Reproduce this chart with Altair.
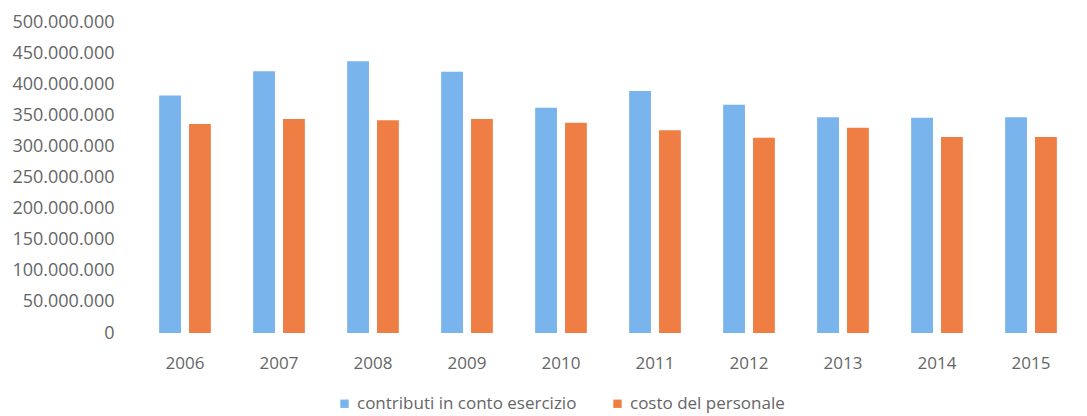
import altair as alt
import pandas as pd

years = ["2006", "2007", "2008", "2009", "2010", "2011", "2012", "2013", "2014", "2015"]
contributi = [382e6, 421e6, 437e6, 420e6, 362e6, 389e6, 367e6, 347e6, 346e6, 347e6]
personale = [336e6, 344e6, 342e6, 344e6, 338e6, 326e6, 314e6, 330e6, 315e6, 315e6]
series = ["contributi in conto esercizio", "costo del personale"]
colors = ["#79B4EC", "#EF7E45"]

rows = []
for i, y in enumerate(years):
    rows.append({"anno": y, "serie": series[0], "valore": contributi[i]})
    rows.append({"anno": y, "serie": series[1], "valore": personale[i]})
df = pd.DataFrame(rows)

font = "Open Sans"
txt = "#666666"
chart = alt.Chart(df).mark_bar().encode(
    x=alt.X("anno:N", title=None,
            scale=alt.Scale(paddingInner=0.45, paddingOuter=0.225),
            axis=alt.Axis(labelAngle=0, domain=False, ticks=False, labelPadding=22,
                          labelFont=font, labelFontSize=17, labelColor=txt)),
    xOffset=alt.XOffset("serie:N", sort=series, scale=alt.Scale(paddingInner=0.27)),
    y=alt.Y("valore:Q", title=None,
            scale=alt.Scale(domain=[0, 500e6]),
            axis=alt.Axis(values=[i * 50e6 for i in range(11)], grid=False, domain=False, ticks=False,
                          labelPadding=24, labelFont=font, labelFontSize=18, labelColor=txt,
                          labelExpr="replace(format(datum.value, ',d'), /,/g, '.')")),
    color=alt.Color("serie:N", sort=series,
                    scale=alt.Scale(domain=series, range=colors),
                    legend=alt.Legend(title=None, orient="none", direction="horizontal",
                                      legendX=198, legendY=373,
                                      symbolType="square", symbolSize=70, symbolStrokeWidth=0,
                                      labelFont=font, labelFontSize=17, labelColor=txt,
                                      labelLimit=0, columnPadding=32)),
).properties(
    width=940, height=311,
    padding={"top": 5, "left": 3, "right": 0, "bottom": 4},
).configure_view(stroke=None)

chart.save("out.html", embed_options={"renderer": "svg", "actions": False})
